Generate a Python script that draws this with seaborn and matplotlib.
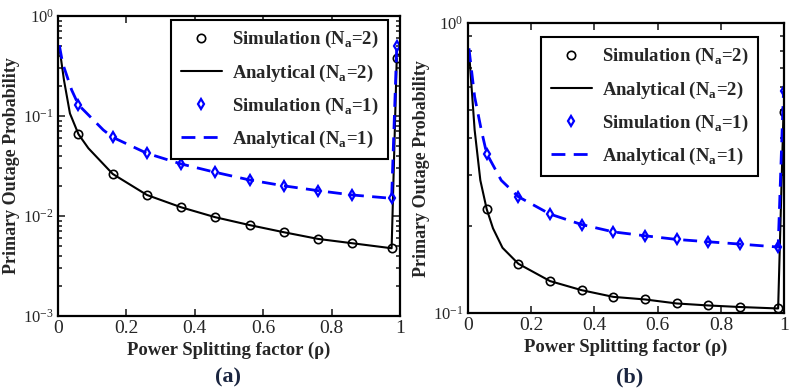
import matplotlib
matplotlib.use("Agg")
import matplotlib.pyplot as plt
import matplotlib.ticker as mticker
import seaborn as sns

# ---- panel (a) ----
a_rho_sim = [0.06, 0.16, 0.26, 0.36, 0.46, 0.56, 0.66, 0.76, 0.86, 0.975, 0.99]
a_sim_na2 = [0.0656, 0.0263, 0.0162, 0.0122, 0.0097, 0.0081, 0.00687, 0.00589, 0.00533, 0.00475, 0.377]
a_sim_na1 = [0.129, 0.0612, 0.0423, 0.0331, 0.0273, 0.0229, 0.0200, 0.0179, 0.0162, 0.0150, 0.50]

a_rho_ana2 = [0.004, 0.0175, 0.035, 0.06, 0.089, 0.16, 0.26, 0.36, 0.46, 0.56, 0.66, 0.76, 0.86, 0.975, 0.99]
a_ana_na2 = [0.49, 0.229, 0.106, 0.0656, 0.0475, 0.0263, 0.0162, 0.0122, 0.0097, 0.0081, 0.00687, 0.00589, 0.00533, 0.00475, 0.377]
a_rho_ana1 = [0.004, 0.0137, 0.04, 0.06, 0.1325, 0.16, 0.26, 0.36, 0.46, 0.56, 0.66, 0.76, 0.86, 0.975, 0.99]
a_ana_na1 = [0.51, 0.336, 0.182, 0.129, 0.0724, 0.0612, 0.0423, 0.0331, 0.0273, 0.0229, 0.0200, 0.0179, 0.0162, 0.0150, 0.50]

# ---- panel (b) ----
b_rho_sim = [0.06, 0.16, 0.26, 0.36, 0.46, 0.56, 0.66, 0.76, 0.86, 0.98, 0.997]
b_sim_na2 = [0.2285, 0.148, 0.129, 0.120, 0.1138, 0.1115, 0.108, 0.1063, 0.105, 0.1038, 0.494]
b_sim_na1 = [0.355, 0.252, 0.2195, 0.202, 0.1906, 0.1848, 0.1795, 0.1762, 0.173, 0.169, 0.584]

b_rho_ana2 = [0.004, 0.022, 0.04, 0.06, 0.08, 0.11, 0.16, 0.26, 0.36, 0.46, 0.56, 0.66, 0.76, 0.86, 0.98, 0.997]
b_ana_na2 = [0.807, 0.428, 0.287, 0.2285, 0.196, 0.168, 0.148, 0.129, 0.120, 0.1138, 0.1115, 0.108, 0.1063, 0.105, 0.1038, 0.494]
b_rho_ana1 = [0.004, 0.022, 0.043, 0.06, 0.106, 0.16, 0.26, 0.36, 0.46, 0.56, 0.66, 0.76, 0.86, 0.98, 0.997]
b_ana_na1 = [0.818, 0.557, 0.428, 0.355, 0.287, 0.252, 0.2195, 0.202, 0.1906, 0.1848, 0.1795, 0.1762, 0.173, 0.169, 0.584]

labels = [r"Simulation (N$_{\mathbf{a}}$=2)", r"Analytical (N$_{\mathbf{a}}$=2)",
          r"Simulation (N$_{\mathbf{a}}$=1)", r"Analytical (N$_{\mathbf{a}}$=1)"]

sns.set_style("ticks")
plt.rcParams["font.family"] = ["Liberation Serif", "DejaVu Serif"]
plt.rcParams["mathtext.fontset"] = "custom"
plt.rcParams["mathtext.rm"] = "Liberation Serif:bold"
plt.rcParams["mathtext.bf"] = "Liberation Serif:bold"
plt.rcParams["xtick.direction"] = "in"
plt.rcParams["ytick.direction"] = "in"

fig = plt.figure(figsize=(7.94, 3.90), dpi=100)
ax_a = fig.add_axes([0.073, 0.19, 0.431, 0.769])
ax_b = fig.add_axes([0.589, 0.197, 0.399, 0.744])


def draw_panel(ax, rho_sim, sim2, sim1, rho2, ana2, rho1, ana1, ylim, legend_anchor):
    sns.lineplot(x=rho_sim, y=sim2, ax=ax, color="k", marker="o", linestyle="",
                 markerfacecolor="none", markeredgecolor="k", markeredgewidth=1.2,
                 markersize=6, label=labels[0])
    sns.lineplot(x=rho2, y=ana2, ax=ax, color="k", linewidth=1.5, label=labels[1])
    sns.lineplot(x=rho_sim, y=sim1, ax=ax, color="#0000FF", marker="d", linestyle="",
                 markerfacecolor="none", markeredgecolor="#0000FF", markeredgewidth=1.6,
                 markersize=5.5, label=labels[2])
    sns.lineplot(x=rho1, y=ana1, ax=ax, color="#0000FF", linewidth=2,
                 dashes=(5, 3), label=labels[3])

    ax.set_yscale("log")
    ax.set_xlim(0, 1)
    ax.set_ylim(*ylim)
    ax.set_xticks([0, 0.2, 0.4, 0.6, 0.8, 1])
    ax.set_xticklabels(["0", "0.2", "0.4", "0.6", "0.8", "1"])
    ax.yaxis.set_minor_formatter(mticker.NullFormatter())
    ax.tick_params(which="both", top=True, right=True, width=1.2)
    ax.tick_params(axis="x", labelsize=14)
    ax.tick_params(axis="y", labelsize=12)
    ax.tick_params(which="major", length=5, pad=3)
    ax.tick_params(which="minor", length=3)
    for sp in ax.spines.values():
        sp.set_linewidth(1.6)
        sp.set_color("k")

    ax.set_xlabel("Power Splitting factor (ρ)", fontsize=13.5, fontweight="bold", labelpad=3)
    ax.set_ylabel("Primary Outage Probability", fontsize=13, fontweight="bold", labelpad=2)

    leg = ax.legend(loc="upper right", bbox_to_anchor=legend_anchor, borderaxespad=0,
                    fancybox=False, framealpha=1, edgecolor="k",
                    prop={"family": "Liberation Serif", "weight": "bold", "size": 13.5},
                    handlelength=2.2, labelspacing=0.64, borderpad=0.5, handletextpad=0.55)
    leg.get_frame().set_linewidth(1.5)


draw_panel(ax_a, a_rho_sim, a_sim_na2, a_sim_na1, a_rho_ana2, a_ana_na2,
           a_rho_ana1, a_ana_na1, (1e-3, 1), (0.965, 0.987))
draw_panel(ax_b, b_rho_sim, b_sim_na2, b_sim_na1, b_rho_ana2, b_ana_na2,
           b_rho_ana1, b_ana_na1, (1e-1, 1), (0.918, 0.952))

fig.text(0.287, 0.033, "(a)", ha="center", va="center", fontsize=16,
         fontweight="bold", color="#1a2540")
fig.text(0.793, 0.033, "(b)", ha="center", va="center", fontsize=16,
         fontweight="bold", color="#1a2540")

fig.savefig("out.png", dpi=100)
